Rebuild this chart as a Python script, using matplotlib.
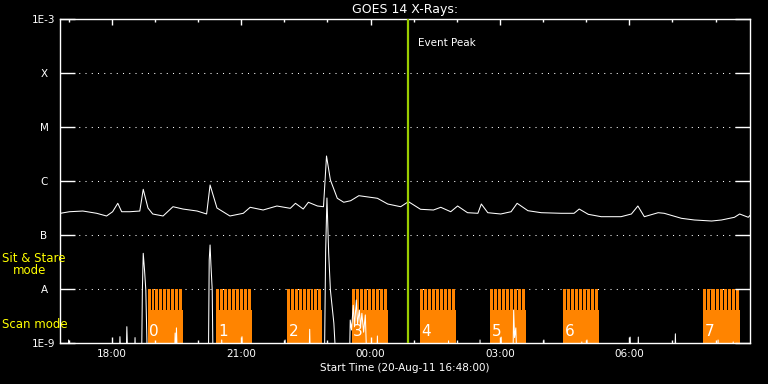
import matplotlib.pyplot as plt
import numpy as np

# time axis in hours of day, start 20-Aug-11 16:48 (values > 24 are the next day)
t_start = 16.8
t_end = 32.8
event_peak = 24.86

# GOES 14 long channel, log10 flux (W/m^2)
xray_t = [16.81, 17.02, 17.33, 17.65, 17.88, 18.02, 18.14, 18.23, 18.42, 18.65,
          18.73, 18.84, 18.95, 19.19, 19.42, 19.65, 19.98, 20.20, 20.28, 20.44,
          20.74, 21.05, 21.21, 21.51, 21.83, 22.14, 22.26, 22.44, 22.56, 22.77,
          22.91, 22.98, 23.07, 23.23, 23.38, 23.54, 23.73, 24.16, 24.40, 24.62,
          24.70, 24.88, 25.16, 25.46, 25.63, 25.86, 26.02, 26.25, 26.49, 26.57,
          26.72, 27.02, 27.26, 27.40, 27.65, 27.96, 28.42, 28.72, 28.84, 29.05,
          29.35, 29.81, 30.05, 30.20, 30.35, 30.67, 30.81, 31.21, 31.51, 31.91,
          32.14, 32.44, 32.56, 32.76, 32.81]
xray_log = [-6.598, -6.569, -6.556, -6.598, -6.648, -6.569, -6.413, -6.569, -6.569, -6.556,
            -6.154, -6.500, -6.611, -6.648, -6.476, -6.519, -6.556, -6.611, -6.074, -6.500,
            -6.648, -6.598, -6.487, -6.537, -6.463, -6.506, -6.413, -6.519, -6.394, -6.463,
            -6.476, -5.537, -5.981, -6.320, -6.394, -6.365, -6.272, -6.320, -6.426, -6.463,
            -6.476, -6.383, -6.524, -6.537, -6.487, -6.569, -6.463, -6.587, -6.598, -6.426,
            -6.587, -6.611, -6.569, -6.413, -6.550, -6.587, -6.598, -6.598, -6.519, -6.617,
            -6.661, -6.661, -6.611, -6.463, -6.661, -6.587, -6.598, -6.691, -6.722, -6.741,
            -6.722, -6.672, -6.611, -6.672, -6.630]

# lower trace (instrument count rate), -9.5 = nothing (below the axis)
det_t = [16.98, 17.00, 17.02,
         18.17, 18.19, 18.22, 18.33, 18.35, 18.38, 18.52, 18.54, 18.56,
         18.69, 18.71, 18.73, 18.76, 18.79, 18.83,
         19.45, 19.47, 19.49, 19.50, 19.53,
         20.24, 20.26, 20.28, 20.30, 20.33, 20.35,
         20.54, 20.55, 20.57, 21.01, 21.02, 21.04, 22.01, 22.02, 22.04,
         22.57, 22.59, 22.61,
         22.93, 22.96, 22.99, 23.03, 23.07, 23.15, 23.21,
         23.51, 23.53, 23.56, 23.60, 23.63, 23.67, 23.70, 23.74, 23.77, 23.80, 23.84, 23.88, 23.92,
         24.14, 24.16, 24.18, 25.80, 25.81, 25.83, 26.53, 26.54, 26.56, 27.02, 27.03, 27.05,
         27.30, 27.32, 27.34, 27.37, 27.40,
         28.01, 28.02, 28.04, 28.89, 28.90, 28.92, 29.01, 29.02, 29.04,
         30.01, 30.02, 30.04, 30.19, 30.21, 30.23, 31.05, 31.07, 31.09,
         32.05, 32.06, 32.08, 32.40, 32.41, 32.43]
det_log = [-9.5, -8.944, -9.5,
           -9.5, -8.883, -9.5, -9.5, -8.698, -9.5, -9.5, -8.900, -9.5,
           -9.5, -8.020, -7.339, -7.648, -8.020, -9.5,
           -9.5, -8.815, -9.5, -8.720, -9.5,
           -9.5, -7.463, -7.185, -7.556, -8.020, -9.5,
           -9.5, -8.944, -9.5, -9.5, -8.883, -9.5, -9.5, -8.944, -9.5,
           -9.5, -8.746, -9.5,
           -9.5, -7.300, -6.315, -7.333, -8.020, -8.630, -9.5,
           -9.5, -8.574, -8.760, -8.300, -8.700, -8.204, -8.650, -8.389, -8.700, -8.450, -8.800, -8.480, -9.5,
           -9.5, -8.870, -9.5, -9.5, -8.960, -9.5, -9.5, -8.944, -9.5, -9.5, -8.890, -9.5,
           -9.5, -8.389, -8.900, -8.720, -9.5,
           -9.5, -8.944, -9.5, -9.5, -8.980, -9.5, -9.5, -8.944, -9.5,
           -9.5, -8.890, -9.5, -9.5, -8.890, -9.5, -9.5, -8.830, -9.5,
           -9.5, -8.944, -9.5, -9.5, -8.980, -9.5]

# scan mode blocks
scan_start = [18.83, 20.42, 22.07, 23.56, 25.14, 26.77, 28.46, 31.72]
scan_end = [19.66, 21.26, 22.88, 24.40, 25.98, 27.60, 29.30, 32.56]
scan_id = ['0', '1', '2', '3', '4', '5', '6', '7']
scan_level = -8.389
stare_level = -8.0

level_names = ['1E-9', 'A', 'B', 'C', 'M', 'X', '1E-3']
level_values = [1e-9, 1e-8, 1e-7, 1e-6, 1e-5, 1e-4, 1e-3]

time_ticks = [18, 21, 24, 27, 30]
time_labels = ['18:00', '21:00', '00:00', '03:00', '06:00']

orange = '#ff8400'
green = '#9acd00'
yellow = '#ffff00'

fig = plt.figure(figsize=(7.68, 3.84), dpi=100, facecolor='black')
ax = fig.add_axes([60 / 768, 1 - 343 / 384, 690 / 768, 324 / 384], facecolor='black')
ax.set_yscale('log')
ax.set_xlim(t_start, t_end)
ax.set_ylim(1e-9, 1e-3)

px = (t_end - t_start) / 690  # one pixel in hours

# scan mode blocks: solid base plus a comb of teeth up to the A level
for s, e, lab in zip(scan_start, scan_end, scan_id):
    ax.fill_between([s, e], 1e-9, 10 ** scan_level, color=orange, lw=0, zorder=1,
                    antialiased=False)
    n = 9
    w = (e - s) / n
    for k in range(n):
        ax.fill_between([s + k * w, s + (k + 1) * w - px], 10 ** scan_level, 10 ** stare_level,
                        color=orange, lw=0, zorder=1, antialiased=False)
    ax.text(s + 0.04, 10 ** -8.93, lab, color='white', fontsize=11, va='bottom', ha='left', zorder=2)

# level grid
for v in level_values[1:-1]:
    ax.axhline(v, color='white', lw=0.75, ls=(0, (1, 5)), zorder=0.5)

ax.plot(xray_t, 10 ** np.array(xray_log), color='white', lw=0.75, zorder=3)
ax.plot(det_t, 10 ** np.array(det_log), color='white', lw=0.75, zorder=3)

ax.axvline(event_peak, color=green, lw=1.6, zorder=4)
ax.text(event_peak + 0.23, 10 ** -3.45, 'Event Peak', color='white', fontsize=7.5, va='center', ha='left')

for sp in ax.spines.values():
    sp.set_color('white')
    sp.set_linewidth(1)

ax.set_xticks(time_ticks)
ax.set_xticklabels(time_labels)
ax.set_xticks(np.arange(17, 33), minor=True)
ax.tick_params(axis='x', which='major', direction='in', length=4.5, width=1, color='white',
               top=True, bottom=True, labelcolor='white', labelsize=7.5, pad=4)
ax.tick_params(axis='x', which='minor', direction='in', length=2.5, width=1, color='white',
               top=True, bottom=True)

ax.set_yticks(level_values)
ax.set_yticklabels(level_names)
ax.yaxis.set_minor_locator(plt.NullLocator())
ax.tick_params(axis='y', which='major', direction='in', length=10.5, width=1, color='white',
               left=True, right=True, labelcolor='white', labelsize=7.5, pad=11.5)
for lb in ax.get_yticklabels():
    lb.set_horizontalalignment('center')

ax.set_title('GOES 14 X-Rays:', color='white', fontsize=9, pad=4)
ax.set_xlabel('Start Time (20-Aug-11 16:48:00)', color='white', fontsize=7.5, labelpad=3)

fig.text(2 / 768, 1 - 259 / 384, 'Sit & Stare', color=yellow, fontsize=8.5, va='center', ha='left')
fig.text(13 / 768, 1 - 271 / 384, 'mode', color=yellow, fontsize=8.5, va='center', ha='left')
fig.text(2 / 768, 1 - 324 / 384, 'Scan mode', color=yellow, fontsize=8.5, va='center', ha='left')

fig.savefig('out.png', dpi=100, facecolor='black')
